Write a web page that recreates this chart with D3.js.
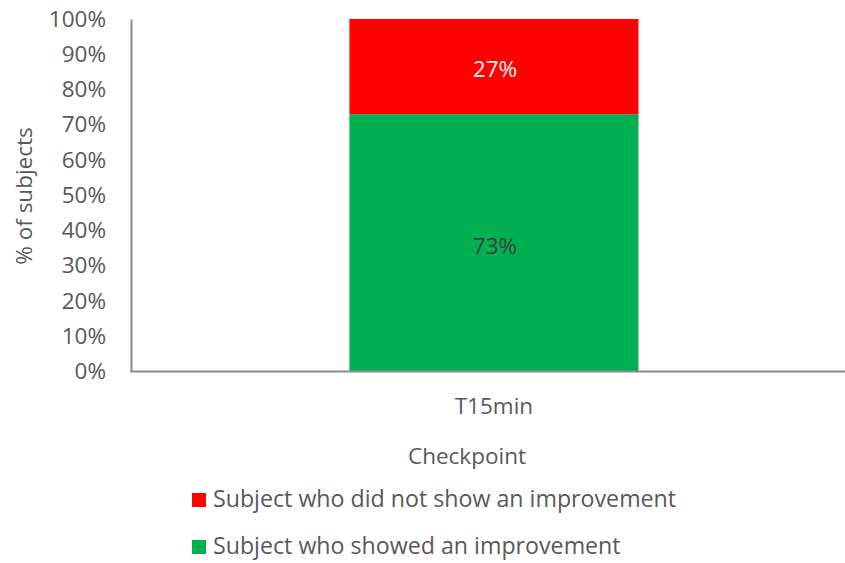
<!DOCTYPE html>
<html>
<head>
<meta charset="utf-8">
<script src="https://cdn.jsdelivr.net/npm/d3@7"></script>
<style>
  html, body { margin: 0; padding: 0; background: #fff; }
  svg text { font-family: "Open Sans", "Liberation Sans", sans-serif; }
</style>
</head>
<body>
<svg id="chart" width="845" height="563"></svg>
<script>
// Checkpoint categories
const categories = ["T15min"];
// Share of subjects per checkpoint (stacked, bottom to top)
const improved = [0.73];
const notImproved = [0.27];
const seriesNames = ["Subject who showed an improvement", "Subject who did not show an improvement"];
const seriesColors = ["#00B050", "#FF0000"];
const labelColors = ["#404040", "#F2F2F2"];
const yTicks = [0, 0.1, 0.2, 0.3, 0.4, 0.5, 0.6, 0.7, 0.8, 0.9, 1.0];

const svg = d3.select("#chart");
const margin = { left: 131, right: 0, top: 19, bottom: 191.5 };
const W = 845, H = 563;
const FS = 22.5;

const x = d3.scaleBand()
  .domain(categories)
  .range([margin.left, W - margin.right])
  .paddingInner(0)
  .paddingOuter(0.735)
  .align(0.514);

const y = d3.scaleLinear()
  .domain([0, 1])
  .range([H - margin.bottom, margin.top]);

const rows = categories.map((c, i) => ({ cat: c, improved: improved[i], notImproved: notImproved[i] }));
const stack = d3.stack().keys(["improved", "notImproved"])(rows);

// Stacked bars with centred value labels
const g = svg.append("g");
stack.forEach((layer, si) => {
  g.selectAll(null).data(layer).enter().append("rect")
    .attr("x", d => x(d.data.cat))
    .attr("width", x.bandwidth())
    .attr("y", d => y(d[1]))
    .attr("height", d => y(d[0]) - y(d[1]))
    .attr("fill", seriesColors[si]);

  g.selectAll(null).data(layer).enter().append("text")
    .attr("x", d => x(d.data.cat) + x.bandwidth() / 2 + 1)
    .attr("y", d => (y(d[0]) + y(d[1])) / 2)
    .attr("dy", "0.48em")
    .attr("text-anchor", "middle")
    .attr("font-size", FS)
    .attr("fill", labelColors[si])
    .text(d => Math.round((d[1] - d[0]) * 100) + "%");
});

// Y axis
const yAxis = d3.axisLeft(y)
  .tickValues(yTicks)
  .tickFormat(d3.format(".0%"))
  .tickSize(0)
  .tickPadding(25);
const ya = svg.append("g").attr("transform", `translate(${margin.left},0)`).call(yAxis);
ya.select(".domain").attr("stroke", "#8c8c8c").attr("stroke-width", 2);
ya.selectAll("text").attr("font-size", FS).attr("fill", "#595959")
  .attr("font-family", "'Open Sans', sans-serif");

// X axis
const xAxis = d3.axisBottom(x).tickSize(0).tickPadding(27);
const xa = svg.append("g").attr("transform", `translate(0,${H - margin.bottom})`).call(xAxis);
xa.select(".domain").attr("stroke", "#8c8c8c").attr("stroke-width", 2)
  .attr("d", `M${margin.left - 1},0H${W - margin.right}`);
xa.selectAll("text").attr("font-size", FS).attr("fill", "#595959")
  .attr("font-family", "'Open Sans', sans-serif");

// Axis titles
svg.append("text")
  .attr("transform", `translate(32,196) rotate(-90)`)
  .attr("text-anchor", "middle")
  .attr("font-size", FS)
  .attr("fill", "#595959")
  .text("% of subjects");

svg.append("text")
  .attr("x", 467).attr("y", 464)
  .attr("text-anchor", "middle")
  .attr("font-size", FS)
  .attr("fill", "#595959")
  .text("Checkpoint");

// Legend (top entry is the upper stack segment)
const legendItems = [1, 0].map(i => ({ name: seriesNames[i], color: seriesColors[i] }));
const lg = svg.append("g");
legendItems.forEach((d, i) => {
  const base = 507 + i * 47;
  lg.append("rect").attr("x", 192).attr("y", base - 14).attr("width", 14).attr("height", 14).attr("fill", d.color);
  lg.append("text").attr("x", 213).attr("y", base)
    .attr("font-size", 23.2).attr("fill", "#595959").text(d.name);
});
</script>
</body>
</html>
